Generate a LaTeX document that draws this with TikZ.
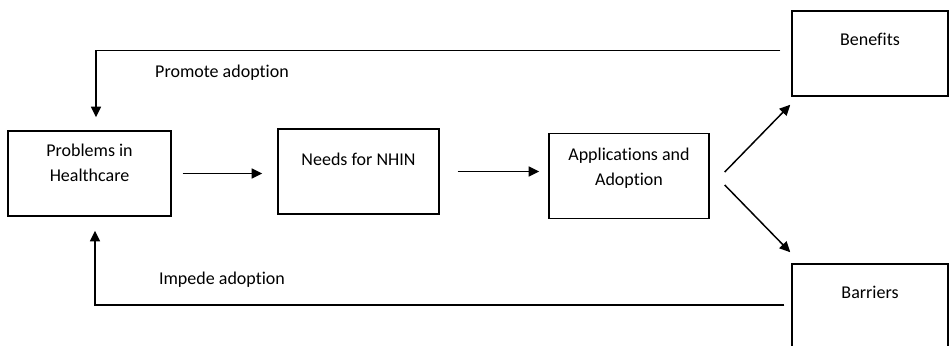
\documentclass[tikz,border=0pt]{standalone}
\usepackage{fontspec}
\setmainfont[Ligatures=NoCommon]{Carlito}
\usetikzlibrary{arrows.meta,calc}

\begin{document}
\begin{tikzpicture}[x=0.75pt,y=-0.75pt,
	box/.style={draw,line width=1.1pt,minimum width=#1,minimum height=63.75pt,inner sep=0pt},
	txt/.style={anchor=north,inner sep=0pt,align=center,font=\fontsize{13.5}{18.75}\selectfont},
	lbl/.style={font=\fontsize{13.5}{16}\selectfont},
	arr/.style={line width=1.1pt,-{Triangle[length=8pt,width=7.5pt]}}]
	\useasboundingbox (0,0) rectangle (949,346);
	\node[box=122.25pt] (prob) at (89.5,173.5) {};
	\node[box=120.75pt] (need) at (358.5,171.5) {};
	\node[box=120pt] (app) at (629,176) {};
	\node[box=117pt] (ben) at (870,53.5) {};
	\node[box=117pt] (bar) at (870,306.5) {};
	\node[txt] (probtxt) at ($(prob.north)+(0,13)$) {Problems in\\Healthcare};
	\node[txt] (needtxt) at ($(need.north)+(0,24)$) {Needs for NHIN};
	\node[txt] (apptxt) at ($(app.north)+(0,15)$) {Applications and\\Adoption};
	\node[txt] (bentxt) at ($(ben.north)+(0,23)$) {Benefits};
	\node[txt] (bartxt) at ($(bar.north)+(0,23)$) {Barriers};
	\node[lbl] (promote) at (222,73) {Promote adoption};
	\node[lbl] (impede) at (222,280) {Impede adoption};
	\draw[arr,shorten <=8.25pt,shorten >=11.25pt] (prob.east) -- (prob.east -| need.west);
	\draw[arr,shorten <=13.5pt,shorten >=6.75pt] (need.east) -- (need.east -| app.west);
	\draw[arr] ($(app.east)+(15,-4)$) -- ($(ben.south west)+(-1,8)$);
	\draw[arr] ($(app.east)+(15,9)$) -- ($(bar.north west)+(-1,-11)$);
	\draw[arr] ($(ben.west)+(-11,-3)$) -| ($(prob.north)+(6.5,-13)$);
	\draw[arr] ($(bar.west)+(-7,-1.5)$) -| ($(prob.south)+(5.5,14)$);
\end{tikzpicture}
\end{document}
